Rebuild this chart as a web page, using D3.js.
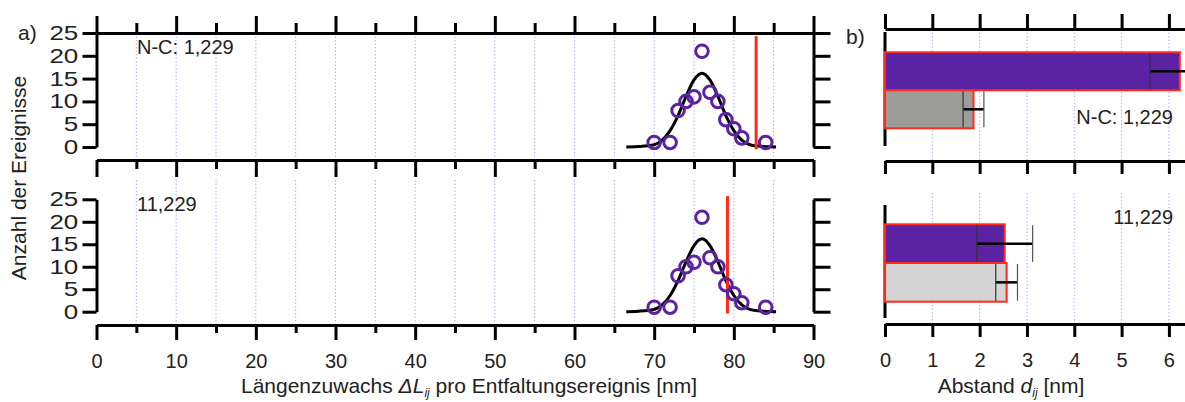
<!DOCTYPE html>
<html>
<head>
<meta charset="utf-8">
<script src="https://cdn.jsdelivr.net/npm/d3@7"></script>
<style>
  body { margin: 0; background: #fff; }
  svg { display: block; font-family: 'Liberation Sans', Arial, sans-serif; }
  .axis path, .axis line { stroke: #000; stroke-width: 3; fill: none; }
  .axis text { font-size: 20px; fill: #222; font-family: 'Liberation Sans', Arial, sans-serif; }
  .grid line { stroke: #b0b0f4; stroke-width: 1; stroke-dasharray: 1.5 2; }
  .lbl { font-size: 20px; fill: #222; }
  .title { font-size: 21px; fill: #222; }
</style>
</head>
<body>
<svg id="chart" width="1185" height="402"></svg>
<script>
// panel a: histogram of length increments
const lengthBins = [70, 72, 73, 74, 75, 76, 77, 78, 79, 80, 81, 84];
const countsNC = [1, 1, 8, 10, 11, 21, 12, 10, 6, 4, 2, 1];
const counts11 = [1, 1, 8, 10, 11, 21, 12, 10, 6, 4, 2, 1];

// gaussian fit
const fitX = [66.5, 68, 70, 71, 72, 73, 74, 75, 76, 77, 78, 79, 80, 81, 82, 83, 85.3];
const fitNC = [0, 0.1, 0.5, 1.5, 3.6, 6.9, 11.1, 14.7, 16.2, 14.7, 11.1, 6.9, 3.6, 1.5, 0.5, 0.2, 0];
const fit11 = [0, 0.1, 0.5, 1.5, 3.6, 6.9, 11.1, 14.7, 16.2, 14.7, 11.1, 6.9, 3.6, 1.5, 0.5, 0.2, 0];

// red marker lines (position, count range)
const markerNC = 82.8, marker11 = 79.2;
const markerSpanNC = [-0.5, 24.3], markerSpan11 = [-0.4, 25.7];

const xTicksMajor = [0, 10, 20, 30, 40, 50, 60, 70, 80, 90];
const xTicksMinor = [5, 15, 25, 35, 45, 55, 65, 75, 85];
const gridA = [5, 10, 15, 20, 25, 30, 35, 40, 45, 50, 55, 60, 65, 70, 75, 80, 85];
const yTicks = [0, 5, 10, 15, 20, 25];

// panel b: distances
const barKeys = ['mutant', 'wildtype'];
const distNC = [6.23, 1.87];
const errNC = [0.63, 0.22];
const dist11 = [2.53, 2.57];
const err11 = [0.59, 0.23];
const distTicks = [0, 1, 2, 3, 4, 5, 6];

const svg = d3.select('#chart');

const xA = d3.scaleLinear().domain([0, 90]).range([96.5, 813.5]);
const xB = d3.scaleLinear().domain([0, 6.34]).range([885, 1185]);

const purple = '#5b22a3';
const red = '#ff2a1a';

function styleYLabels(g) {
  g.selectAll('text').attr('transform', 'scale(1.3,1)');
}

function histPanel(opts) {
  const y = d3.scaleLinear().domain([0, 25]).range(opts.yRange);
  const g = svg.append('g');

  g.append('g').attr('class', 'grid')
    .selectAll('line')
    .data(gridA)
    .join('line')
    .attr('x1', d => xA(d)).attr('x2', d => xA(d))
    .attr('y1', opts.gridY[0]).attr('y2', opts.gridY[1]);

  // left / right count axes
  g.append('g').attr('class', 'axis')
    .attr('transform', 'translate(' + xA(0) + ',0)')
    .call(d3.axisLeft(y).tickValues(yTicks).tickSize(14).tickSizeOuter(0).tickPadding(0))
    .call(styleYLabels);
  g.append('g').attr('class', 'axis')
    .attr('transform', 'translate(' + xA(90) + ',0)')
    .call(d3.axisRight(y).tickValues(yTicks).tickSize(17).tickSizeOuter(0).tickFormat(''));

  if (opts.top) {
    g.append('g').attr('class', 'axis')
      .attr('transform', 'translate(0,' + y(25) + ')')
      .call(d3.axisTop(xA).tickValues(xTicksMajor).tickSize(17).tickSizeOuter(0).tickFormat(''));
    g.append('g').attr('class', 'axis')
      .attr('transform', 'translate(0,' + y(25) + ')')
      .call(d3.axisTop(xA).tickValues(xTicksMinor).tickSize(10).tickFormat(''))
      .call(a => a.select('.domain').remove());
  }

  g.append('g').attr('class', 'axis')
    .attr('transform', 'translate(0,' + opts.bottomAxisY + ')')
    .call(d3.axisBottom(xA).tickValues(xTicksMajor).tickSize(opts.majorLen).tickSizeOuter(0).tickPadding(14)
      .tickFormat(opts.labels ? d3.format('d') : ''));
  g.append('g').attr('class', 'axis')
    .attr('transform', 'translate(0,' + opts.bottomAxisY + ')')
    .call(d3.axisBottom(xA).tickValues(xTicksMinor).tickSize(opts.minorLen).tickFormat(''))
    .call(a => a.select('.domain').remove());

  // fit curve
  const line = d3.line()
    .x((d, i) => xA(fitX[i]))
    .y(d => y(d))
    .curve(d3.curveMonotoneX);
  g.append('path')
    .datum(opts.fit)
    .attr('d', line)
    .attr('fill', 'none')
    .attr('stroke', '#000')
    .attr('stroke-width', 3);

  // red marker
  g.append('line')
    .attr('x1', xA(opts.marker)).attr('x2', xA(opts.marker))
    .attr('y1', y(opts.span[0])).attr('y2', y(opts.span[1]))
    .attr('stroke', red)
    .attr('stroke-width', 3);

  g.append('g')
    .selectAll('circle')
    .data(opts.counts)
    .join('circle')
    .attr('cx', (d, i) => xA(lengthBins[i]))
    .attr('cy', d => y(d))
    .attr('r', 6.3)
    .attr('fill', 'none')
    .attr('stroke', purple)
    .attr('stroke-width', 3);

  g.append('text').attr('class', 'lbl')
    .attr('x', 137).attr('y', opts.labelY)
    .text(opts.label);
}

histPanel({
  yRange: [147, 33], gridY: [33, 160], top: true,
  bottomAxisY: 160, majorLen: 17, minorLen: 9, labels: false,
  counts: countsNC, fit: fitNC, marker: markerNC, span: markerSpanNC,
  label: 'N-C: 1,229', labelY: 54
});
histPanel({
  yRange: [311.7, 199.3], gridY: [180, 325], top: false,
  bottomAxisY: 325, majorLen: 15, minorLen: 8, labels: true,
  counts: counts11, fit: fit11, marker: marker11, span: markerSpan11,
  label: '11,229', labelY: 211
});

function barPanel(opts) {
  const y = d3.scaleBand().domain(barKeys).range(opts.band);
  const g = svg.append('g');

  g.append('g').attr('class', 'grid')
    .selectAll('line')
    .data(distTicks.slice(1))
    .join('line')
    .attr('x1', d => xB(d)).attr('x2', d => xB(d))
    .attr('y1', opts.gridY[0]).attr('y2', opts.gridY[1]);

  if (opts.top) {
    g.append('g').attr('class', 'axis')
      .attr('transform', 'translate(0,' + opts.topAxisY + ')')
      .call(d3.axisTop(xB).tickValues(distTicks).tickSize(15).tickSizeOuter(0).tickFormat(''));
  }
  g.append('g').attr('class', 'axis')
    .attr('transform', 'translate(0,' + opts.bottomAxisY + ')')
    .call(d3.axisBottom(xB).tickValues(distTicks).tickSize(13).tickSizeOuter(0).tickPadding(16)
      .tickFormat(opts.labels ? d3.format('d') : ''));

  g.append('line')
    .attr('x1', xB(0)).attr('x2', xB(0))
    .attr('y1', opts.leftSpan[0]).attr('y2', opts.leftSpan[1])
    .attr('stroke', '#000').attr('stroke-width', 3);

  g.selectAll('rect')
    .data(opts.values)
    .join('rect')
    .attr('x', xB(0))
    .attr('y', (d, i) => y(barKeys[i]))
    .attr('width', d => xB(d) - xB(0))
    .attr('height', y.bandwidth())
    .attr('fill', (d, i) => opts.colors[i])
    .attr('stroke', red)
    .attr('stroke-width', 2);

  const eb = g.append('g')
    .selectAll('g')
    .data(opts.values)
    .join('g');
  eb.append('line')
    .attr('x1', (d, i) => xB(d - opts.errs[i]))
    .attr('x2', (d, i) => xB(d + opts.errs[i]))
    .attr('y1', (d, i) => y(barKeys[i]) + y.bandwidth() / 2)
    .attr('y2', (d, i) => y(barKeys[i]) + y.bandwidth() / 2)
    .attr('stroke', '#000').attr('stroke-width', 2.5);
  eb.append('line')
    .attr('x1', (d, i) => xB(d - opts.errs[i]))
    .attr('x2', (d, i) => xB(d - opts.errs[i]))
    .attr('y1', (d, i) => y(barKeys[i]) + 1)
    .attr('y2', (d, i) => y(barKeys[i]) + y.bandwidth() - 1)
    .attr('stroke', '#333').attr('stroke-width', 1.2);
  eb.append('line')
    .attr('x1', (d, i) => xB(d + opts.errs[i]))
    .attr('x2', (d, i) => xB(d + opts.errs[i]))
    .attr('y1', (d, i) => y(barKeys[i]) + 1)
    .attr('y2', (d, i) => y(barKeys[i]) + y.bandwidth() - 1)
    .attr('stroke', '#555').attr('stroke-width', 1.2);

  g.append('text').attr('class', 'lbl')
    .attr('x', 1173).attr('y', opts.labelY)
    .attr('text-anchor', 'end')
    .text(opts.label);
}

barPanel({
  band: [52.3, 128.3], gridY: [29, 161], top: true, topAxisY: 29,
  bottomAxisY: 161, labels: false, leftSpan: [32, 146],
  values: distNC, errs: errNC, colors: [purple, '#9c9c9a'],
  label: 'N-C: 1,229', labelY: 124
});
barPanel({
  band: [224.3, 301.7], gridY: [193, 324], top: false,
  bottomAxisY: 324, labels: true, leftSpan: [205, 318],
  values: dist11, errs: err11, colors: [purple, '#d4d4d4'],
  label: '11,229', labelY: 224
});

// panel letters and axis titles
svg.append('text').attr('class', 'title').attr('x', 18).attr('y', 40).text('a)');
svg.append('text').attr('class', 'title').attr('x', 846).attr('y', 44).text('b)');

svg.append('text').attr('class', 'title')
  .attr('transform', 'translate(26,178) rotate(-90)')
  .attr('text-anchor', 'middle')
  .text('Anzahl der Ereignisse');

const tA = svg.append('text').attr('class', 'title')
  .attr('x', 469).attr('y', 393).attr('text-anchor', 'middle');
tA.append('tspan').text('Längenzuwachs ');
tA.append('tspan').attr('font-style', 'italic').text('ΔL');
tA.append('tspan').attr('font-style', 'italic').attr('font-size', 12).attr('dy', 4).text('ij');
tA.append('tspan').attr('dy', -4).text(' pro Entfaltungsereignis [nm]');

const tB = svg.append('text').attr('class', 'title')
  .attr('x', 1011).attr('y', 393).attr('text-anchor', 'middle');
tB.append('tspan').text('Abstand ');
tB.append('tspan').attr('font-style', 'italic').text('d');
tB.append('tspan').attr('font-style', 'italic').attr('font-size', 12).attr('dy', 4).text('ij');
tB.append('tspan').attr('dy', -4).text(' [nm]');
</script>
</body>
</html>
